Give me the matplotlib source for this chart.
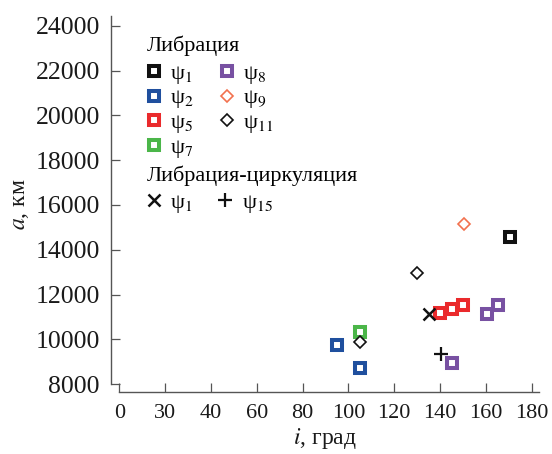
import matplotlib
matplotlib.use("Agg")
import matplotlib.pyplot as plt

plt.rcParams['font.family'] = ['Liberation Serif', 'DejaVu Serif']
plt.rcParams['mathtext.fontset'] = 'stix'

# ---- data ----
lib_names = ["ψ$_1$", "ψ$_2$", "ψ$_5$", "ψ$_7$", "ψ$_8$", "ψ$_9$", "ψ$_{11}$"]
lib_i = [
    [170.3],
    [94.9, 104.9],
    [140.0, 145.3, 150.2],
    [105.0],
    [160.4, 165.2, 145.4],
    [150.3],
    [130.0, 105.0],
]
lib_a = [
    [14560],
    [9740, 8710],
    [11170, 11350, 11550],
    [10320],
    [11150, 11540, 8940],
    [15150],
    [12950, 9870],
]
circ_names = ["ψ$_1$", "ψ$_{15}$"]
circ_i = [[135.2], [140.2]]
circ_a = [[11120], [9340]]

x_ticks = [0, 20, 40, 60, 80, 100, 120, 140, 160, 180]
x_ticklabels = ["0", "30", "40", "60", "80", "100", "120", "140", "160", "180"]
y_ticks = [8000, 10000, 12000, 14000, 16000, 18000, 20000, 22000, 24000]

# ---- styles ----
lib_styles = [
    dict(marker='s', color='#111111', ms=6.5, mew=2.9, mfc='white'),
    dict(marker='s', color='#1f4f9e', ms=6.5, mew=2.9, mfc='white'),
    dict(marker='s', color='#ea2a2c', ms=6.5, mew=2.9, mfc='white'),
    dict(marker='s', color='#4bb649', ms=6.5, mew=2.9, mfc='white'),
    dict(marker='s', color='#7851a2', ms=6.5, mew=2.9, mfc='white'),
    dict(marker='D', color='#f2714e', ms=6.2, mew=1.2, mfc='white'),
    dict(marker='D', color='#111111', ms=6.2, mew=1.2, mfc='white'),
]
circ_styles = [
    dict(marker='x', color='#111111', ms=8.5, mew=1.8),
    dict(marker='+', color='#111111', ms=10, mew=1.6),
]

W, H = 552, 454
fig = plt.figure(figsize=(W / 100, H / 100), dpi=100)
left, right, bottom, top = 111, 539.3, 392, 16
ax = fig.add_axes([left / W, (H - bottom) / H, (right - left) / W, (bottom - top) / H])

lib_handles = []
for xs, ys, st, name in zip(lib_i, lib_a, lib_styles, lib_names):
    h, = ax.plot(xs, ys, linestyle='none', label=name, **st)
    lib_handles.append(h)
circ_handles = []
for xs, ys, st, name in zip(circ_i, circ_a, circ_styles, circ_names):
    h, = ax.plot(xs, ys, linestyle='none', label=name, **st)
    circ_handles.append(h)

ax.set_xlim(-3.62, 183.3)
ax.set_ylim(7656, 24433)
ax.spines['top'].set_visible(False)
ax.spines['right'].set_visible(False)
ax.spines['bottom'].set_bounds(0, 183.3)
ax.spines['left'].set_bounds(8000, 24433)
for s in ('left', 'bottom'):
    ax.spines[s].set_color('#555555')
    ax.spines[s].set_linewidth(1.0)

ax.set_xticks(x_ticks)
ax.set_xticklabels(x_ticklabels)
ax.set_yticks(y_ticks)
ax.tick_params(axis='both', direction='in', length=6.3, width=0.9, color='#555555',
               labelcolor='#1a1a1a')
ax.tick_params(axis='x', labelsize=16, pad=9)
ax.tick_params(axis='y', labelsize=18.5, pad=8)

ax.set_xlabel("$i$, град", fontsize=17, color='#1a1a1a', labelpad=2)
ax.set_ylabel("$a$, км", fontsize=17, color='#1a1a1a', labelpad=3)

leg_kw = dict(frameon=False, fontsize=16, title_fontsize=16, loc='upper left',
              borderaxespad=0, borderpad=0, handlelength=0.65, handletextpad=0.4,
              columnspacing=1.15, labelspacing=0.1, alignment='left')
leg1 = ax.legend(handles=lib_handles, ncol=2, title="Либрация",
                 bbox_to_anchor=(0.084, 0.948), **leg_kw)
ax.add_artist(leg1)
leg2 = ax.legend(handles=circ_handles, ncol=2, title="Либрация-циркуляция",
                 bbox_to_anchor=(0.084, 0.603), **leg_kw)
for lg in (leg1, leg2):
    lg._legend_box.sep = 5

fig.savefig("out.png", dpi=100)
